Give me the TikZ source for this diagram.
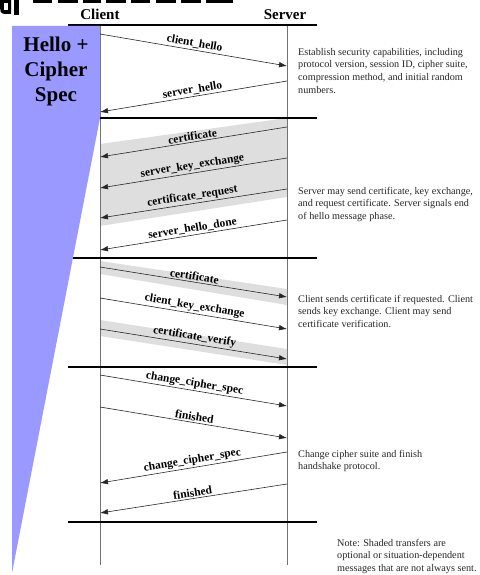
\documentclass[tikz,border=0pt]{standalone}
\usepackage{fontspec}
\setmainfont{Liberation Serif}
\usetikzlibrary{arrows.meta}
\begin{document}
\begin{tikzpicture}[x=1pt,y=-1pt,
  msg/.style={draw=black!85, line width=0.6pt, -{Latex[length=8pt,width=5.5pt]}},
  lbl/.style={font=\fontsize{11.5}{12}\selectfont\bfseries, inner sep=1.5pt, sloped, above, midway},
  desc/.style={font=\fontsize{10.2}{12.6}\selectfont, text=black!85, align=left, anchor=north west, inner sep=0pt},
  rulebar/.style={line width=2pt, black},
  life/.style={draw=black!55, line width=0.9pt},
  band/.style={fill=black!13, draw=none},
  hdr/.style={font=\fontsize{15}{15}\selectfont\bfseries, anchor=base, inner sep=0pt}
]
\useasboundingbox (0,0) rectangle (479,575);

% cut-off heading fragments at the top
\fill[black] (0,0) -- (11,0) -- (11,14) -- (5,14) .. controls (0,14) and (0,10) .. (0,7) -- cycle;
\fill[white] (4,3) rectangle (8,10);
\fill[black] (14,0) rectangle (19,15);
\foreach \a/\b in {33/52,58/78,83/101,106/126,131/150,156/176,181/201,206/233}
  \fill[black] (\a,0) rectangle (\b,3);

% coordinates
\coordinate (ct) at (100,25); \coordinate (cb) at (100,565);
\coordinate (st) at (287,25); \coordinate (sb) at (287,565);
\coordinate (c1) at (100,34);  \coordinate (s1) at (287,66);
\coordinate (s2) at (287,81);  \coordinate (c2) at (100,112);
\coordinate (s3) at (287,127); \coordinate (c3) at (100,157);
\coordinate (s4) at (287,158); \coordinate (c4) at (100,188);
\coordinate (s5) at (287,189); \coordinate (c5) at (100,218);
\coordinate (s6) at (287,220); \coordinate (c6) at (100,250);
\coordinate (c7) at (100,267); \coordinate (s7) at (287,297);
\coordinate (c8) at (100,298); \coordinate (s8) at (287,329);
\coordinate (c9) at (100,329); \coordinate (s9) at (287,359);
\coordinate (c10) at (100,375); \coordinate (s10) at (287,406);
\coordinate (c11) at (100,407); \coordinate (s11) at (287,438);
\coordinate (s12) at (287,452); \coordinate (c12) at (100,483);
\coordinate (s13) at (287,484); \coordinate (c13) at (100,513);

% shaded bands
\fill[band] (100,144) -- (287,118) -- (287,197) -- (100,226) -- cycle;
\fill[band] (100,261) -- (287,289) -- (287,305) -- (100,274) -- cycle;
\fill[band] (100,320) -- (287,349) -- (287,365) -- (100,336) -- cycle;

% lifelines
\draw[life] (ct) -- (cb);
\draw[life] (st) -- (sb);

% rules
\foreach \y in {25,118,258,367,522}
  \draw[rulebar] (68,\y) -- (317,\y);

% blue phase marker
\fill[fill={rgb,255:red,153;green,153;blue,255}] (12,26) -- (100,26) -- (100,118) -- (12,573) -- cycle;
\node[font=\fontsize{21}{25}\selectfont\bfseries, align=center, anchor=north, inner sep=0pt] (hello) at (56,37) {Hello +\\Cipher\\Spec};

% headers
\node[hdr] (client) at (100,20) {Client};
\node[hdr] (server) at (285,20) {Server};

% messages
\draw[msg] (c1) -- node[lbl] {client\_hello} (s1);
\draw[msg] (s2) -- node[lbl] {server\_hello} (c2);
\draw[msg] (s3) -- node[lbl] {certificate} (c3);
\draw[msg] (s4) -- node[lbl] {server\_key\_exchange} (c4);
\draw[msg] (s5) -- node[lbl] {certificate\_request} (c5);
\draw[msg] (s6) -- node[lbl] {server\_hello\_done} (c6);
\draw[msg] (c7) -- node[lbl] {certificate} (s7);
\draw[msg] (c8) -- node[lbl] {client\_key\_exchange} (s8);
\draw[msg] (c9) -- node[lbl] {certificate\_verify} (s9);
\draw[msg] (c10) -- node[lbl] {change\_cipher\_spec} (s10);
\draw[msg] (c11) -- node[lbl] {finished} (s11);
\draw[msg] (s12) -- node[lbl] {change\_cipher\_spec} (c12);
\draw[msg] (s13) -- node[lbl] {finished} (c13);

% descriptions
\node[desc] (d1) at (298,48) {Establish security capabilities, including\\protocol version, session ID, cipher suite,\\compression method, and initial random\\numbers.};
\node[desc] (d2) at (298,187) {Server may send certificate, key exchange,\\and request certificate. Server signals end\\of hello message phase.};
\node[desc] (d3) at (298,295) {Client sends certificate if requested. Client\\sends key exchange. Client may send\\certificate verification.};
\node[desc] (d4) at (298,450) {Change cipher suite and finish\\handshake protocol.};
\node[desc] (d5) at (337,539) {Note: Shaded transfers are\\optional or situation-dependent\\messages that are not always sent.};
\end{tikzpicture}
\end{document}
